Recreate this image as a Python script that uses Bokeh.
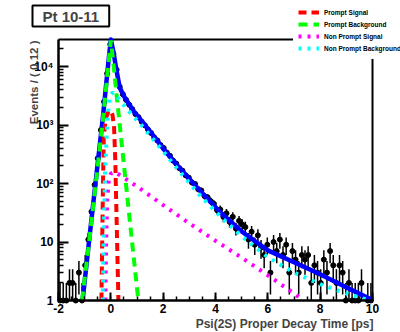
import math
from bokeh.plotting import figure
from bokeh.models import Range1d, FixedTicker, Label, Legend, LegendItem
from bokeh.embed import file_html
from bokeh.resources import INLINE

# ---------------- data ----------------
bin_lo = -2.0
bin_width = 0.12
counts = [1, 1, 1, 2, 2, 1, 3, 1, 4, 11,
          33, 95, 270, 820, 2500, 7600, 24000, 16500, 8800, 4500,
          3350, 2700, 2230, 1870, 1540, 1360, 1140, 990, 840, 730,
          610, 545, 455, 405, 338, 298, 246, 219, 183, 166,
          138, 126, 104, 98, 80, 76, 61, 58, 50, 45,
          35, 36, 27, 31, 22, 27, 17, 23, 20, 18,
          11, 15, 9, 13, 8, 6, 9, 3, 10, 7,
          11, 6, 9, 3, 7, 5, 3, 6, 5, 6,
          2, 4, 3, 2, 5, 3, 7, 4, 2, 4,
          3, 1, 2, 1, 1, 1, 2, 0, 1, 1]

# total fit
total_t = [-1.08, -0.8, -0.5, -0.3, -0.2, -0.1, 0.0, 0.1, 0.21, 0.34, 0.53, 0.9,
           1.5, 2.0, 2.6, 3.4, 4.2, 5.0, 6.0, 7.0, 7.9, 8.8, 9.8, 10.0]
total_y = [1, 14, 224, 1410, 3980, 11200, 29000, 17800, 8900, 4360, 2950, 1660,
           776, 398, 190, 76, 31.6, 15.1, 7.2, 4.5, 2.95, 1.86, 1.12, 1.02]

# prompt signal
psig_t = [-0.36, -0.33, -0.3, -0.27, -0.2, -0.1, -0.02, 0.06, 0.12, 0.17, 0.21, 0.25, 0.29]
psig_y = [1, 10, 100, 630, 1260, 1660, 1780, 1510, 1000, 250, 40, 6.3, 1]

# prompt background
pbkg_t = [-1.1, -0.8, -0.5, -0.3, -0.2, -0.1, 0.0, 0.1, 0.2, 0.4, 0.6, 0.8, 1.05]
pbkg_y = [1, 13, 200, 1260, 3550, 10000, 28000, 11200, 4000, 560, 79, 11.2, 1]

# non prompt signal
npsig_t = [-0.21, -0.18, -0.14, -0.08, 0.0, 0.15, 0.5, 1.0, 2.0, 3.0, 4.0, 5.0, 6.0, 7.0, 7.3]
npsig_y = [1, 10, 50, 112, 148, 158, 126, 89, 42.7, 20.9, 10.5, 5.4, 2.7, 1.32, 1.05]

# non prompt background
npbkg_t = [-0.31, -0.27, -0.22, -0.15, -0.08, 0.0, 0.08, 0.3, 0.64, 1.2, 2.0, 2.6, 3.4,
           4.2, 5.0, 6.0, 7.0, 8.0, 9.0, 9.9]
npbkg_y = [1, 16, 158, 794, 2240, 3310, 3630, 2820, 1820, 955, 355, 166, 63,
           27, 12.6, 5.5, 3.0, 1.9, 1.32, 1.0]

x_lo, x_hi = -2.0, 10.0
y_lo, y_hi = 1.0, 29000.0
x_major = [-2, 0, 2, 4, 6, 8, 10]
x_minor = [-2 + 0.5 * k for k in range(25)]
x_labels = {-2: "-2"}
y_major = [1, 10, 100, 1000, 10000]
y_minor = [m * 10 ** k for k in range(5) for m in range(2, 10) if m * 10 ** k < y_hi]
y_labels = {1: "1", 10: "10", 100: "10\u00b2", 1000: "10\u00b3", 10000: "10\u2074"}

legend_names = ["Prompt Signal", "Prompt Background", "Non Prompt Signal", "Non Prompt Background"]

# ---------------- layout (pixels of the 400x332 canvas) ----------------
W, H = 400, 332
FL, FR, FT, FB = 58, 372, 39, 300      # where the axis box sits on the canvas
FONT = "Liberation Sans"
ppx = (FR - FL) / (x_hi - x_lo)
ppy = (FB - FT) / (math.log10(y_hi) - math.log10(y_lo))


def dx(px):
    return x_lo + (px - FL) / ppx


def dy(py):
    return 10 ** (math.log10(y_lo) + (FB - py) / ppy)


p = figure(width=W, height=H,
           x_range=Range1d(dx(0), dx(W)), y_range=Range1d(dy(H), dy(0)),
           y_axis_type="log", output_backend="svg", toolbar_location=None,
           min_border=0, min_border_left=0, min_border_right=0,
           min_border_top=0, min_border_bottom=0, title=None)
p.xgrid.visible = False
p.ygrid.visible = False
p.outline_line_color = None
p.background_fill_color = "white"
p.border_fill_color = "white"

p.xaxis.ticker = FixedTicker(ticks=x_major, minor_ticks=x_minor)
p.yaxis.ticker = FixedTicker(ticks=y_major, minor_ticks=y_minor)
p.xaxis.major_label_overrides = x_labels
p.yaxis.major_label_overrides = y_labels
p.xaxis.fixed_location = y_lo
p.yaxis.fixed_location = x_lo
p.xaxis.bounds = (x_lo, x_hi)
p.yaxis.bounds = (y_lo, y_hi)

for ax, mj, mn in ((p.xaxis[0], 8, 4), (p.yaxis[0], 10, 5)):
    ax.axis_line_width = 2.5
    ax.axis_line_color = "black"
    ax.major_tick_in = mj
    ax.major_tick_out = 0
    ax.minor_tick_in = mn
    ax.minor_tick_out = 0
    ax.major_tick_line_width = 2
    ax.minor_tick_line_width = 1.5
    ax.major_tick_line_color = "black"
    ax.minor_tick_line_color = "black"
    ax.major_label_text_font = FONT
    ax.major_label_text_font_style = "bold"
    ax.major_label_text_font_size = "12px"
    ax.major_label_text_color = "black"
p.xaxis.major_label_standoff = 3
p.yaxis.major_label_standoff = 5

# top and right edges of the box
p.segment(x0=[x_lo, x_hi], y0=[y_hi, y_lo], x1=[x_hi, x_hi], y1=[y_hi, y_hi],
          line_color="black", line_width=2)

# ---------------- data points ----------------
xs, ys, lo, hi, xl, xr = [], [], [], [], [], []
for i, n in enumerate(counts):
    if n <= 0:
        continue
    c = bin_lo + bin_width * (i + 0.5)
    e = math.sqrt(n)
    xs.append(c)
    ys.append(n)
    lo.append(max(n - e, y_lo))
    hi.append(n + e)
    xl.append(c - bin_width / 2)
    xr.append(c + bin_width / 2)

p.segment(x0=xs, y0=lo, x1=xs, y1=hi, line_color="black", line_width=1.5)
p.segment(x0=xl, y0=ys, x1=xr, y1=ys, line_color="black", line_width=1.5)
p.scatter(xs, ys, size=5, color="black")

# ---------------- curves ----------------
p.line(total_t, total_y, line_color="#0000ff", line_width=4.5, line_join="round")
r_ps = p.line(psig_t, psig_y, line_color="#ff0000", line_width=4, line_dash="8 5")
r_pb = p.line(pbkg_t, pbkg_y, line_color="#00ff00", line_width=4, line_dash="9 6")
r_ns = p.line(npsig_t, npsig_y, line_color="#ff00ff", line_width=4, line_dash="3 6")
r_nb = p.line(npbkg_t, npbkg_y, line_color="#00ffff", line_width=4, line_dash="3 6")

leg_pad = 5
leg_top = 1
leg = Legend(items=[LegendItem(label=n, renderers=[r])
                    for n, r in zip(legend_names, [r_ps, r_pb, r_ns, r_nb])],
             location=(293, H - (leg_top + 2 * leg_pad + 12 * len(legend_names))),
             orientation="vertical",
             glyph_width=21, glyph_height=12, label_height=12, label_standoff=5,
             spacing=0, padding=leg_pad, margin=0, border_line_alpha=0,
             background_fill_color="white", background_fill_alpha=1,
             label_text_font=FONT, label_text_font_style="bold",
             label_text_font_size="6.5px", label_text_color="black")
p.add_layout(leg)

# ---------------- texts ----------------
p.add_layout(Label(x=dx(32), y=dy(15.5), text="Pt 10-11", text_align="left", text_baseline="middle",
                   text_font=FONT, text_font_style="bold", text_font_size="15px",
                   border_line_color="black", border_line_width=2,
                   background_fill_color="white", background_fill_alpha=1,
                   padding=dict(left=10, right=10, top=2, bottom=2)))
p.add_layout(Label(x=dx(33), y=dy(40), text="Events / ( 0.12 )", angle=math.pi / 2,
                   text_align="right", text_baseline="middle",
                   text_font=FONT, text_font_style="bold", text_font_size="11.5px"))
p.add_layout(Label(x=dx(373), y=dy(323), text="Psi(2S) Proper Decay Time [ps]",
                   text_align="right", text_baseline="middle",
                   text_font=FONT, text_font_style="bold", text_font_size="12px"))

open("out.html", "w").write(file_html(p, INLINE))
